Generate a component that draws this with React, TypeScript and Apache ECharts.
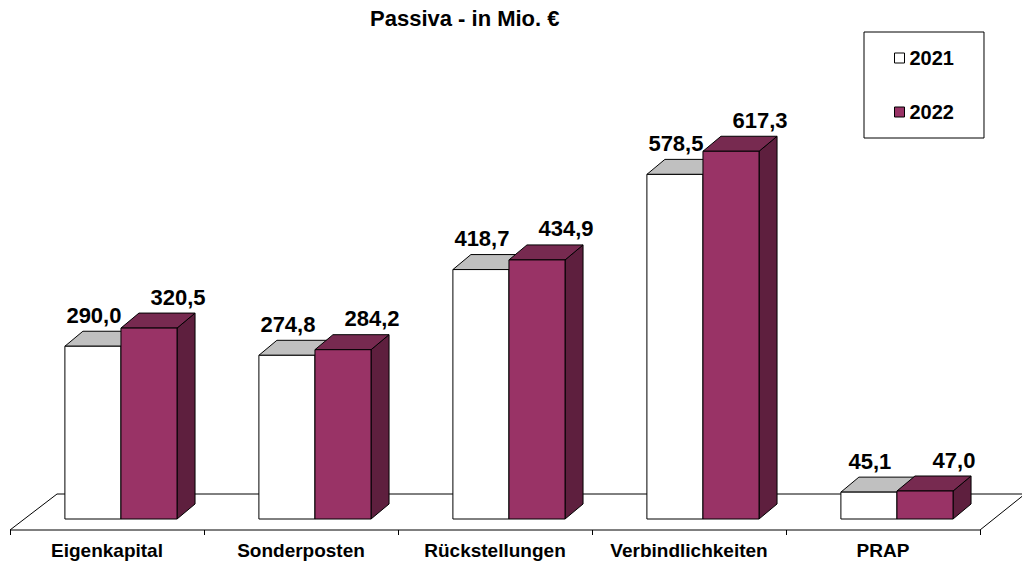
import React, { useEffect, useRef } from "react";
import * as echarts from "echarts";

const categories = ["Eigenkapital", "Sonderposten", "Rückstellungen", "Verbindlichkeiten", "PRAP"];
const seriesNames = ["2021", "2022"];
const values2021 = [290.0, 274.8, 418.7, 578.5, 45.1];
const values2022 = [320.5, 284.2, 434.9, 617.3, 47.0];

const FONT = "'Liberation Sans', Arial, sans-serif";

const palette = [
  { front: "#ffffff", top: "#c0c0c0", side: "#a0a0a0" },
  { front: "#993366", top: "#772a50", side: "#5e1f3e" },
];

function fmt(v: number) {
  return v.toFixed(1).replace(".", ",");
}

function makeBarRender(si: number) {
  return (params: any, api: any) => {
    const cat = api.value(0);
    const v = api.value(1);
    const top = api.coord([cat, v]);
    const base = api.coord([cat, 0]);
    const band = api.size([1, 0])[0];
    const w = band * 0.289;
    const shift = band * 0.072;
    const cx = top[0];
    const x0 = si === 0 ? cx + shift - w : cx + shift;
    const x1 = x0 + w;
    const yT = top[1];
    const yB = base[1];
    const dx = 18;
    const dy = -15;
    const c = palette[si];
    const stroke = { stroke: "#000", lineWidth: 1 };
    const lx = (x0 + x1) / 2 + (si === 0 ? 1 : 29);
    return {
      type: "group",
      children: [
        {
          type: "polygon",
          shape: { points: [[x1, yB], [x1 + dx, yB + dy], [x1 + dx, yT + dy], [x1, yT]] },
          style: { fill: c.side, ...stroke },
        },
        {
          type: "polygon",
          shape: { points: [[x0, yT], [x1, yT], [x1 + dx, yT + dy], [x0 + dx, yT + dy]] },
          style: { fill: c.top, ...stroke },
        },
        {
          type: "polygon",
          shape: { points: [[x0, yB], [x1, yB], [x1, yT], [x0, yT]] },
          style: { fill: c.front, ...stroke },
        },
        {
          type: "text",
          style: {
            x: lx,
            y: yT - 31,
            text: fmt(v),
            textAlign: "center",
            textVerticalAlign: "middle",
            fill: "#000",
            font: `bold 22px ${FONT}`,
          },
        },
      ],
    };
  };
}

export default function App() {
  const ref = useRef<HTMLDivElement>(null);
  useEffect(() => {
    if (!ref.current) return;
    const chart = echarts.init(ref.current, undefined, { renderer: "svg" });
    const floorRender = (params: any, api: any) => {
      const cs = params.coordSys;
      const fy = cs.y + cs.height + 11;
      const x = cs.x;
      const w = cs.width;
      const n = categories.length;
      const ticks = [];
      for (let i = 0; i <= n; i++) {
        const tx = Math.round(x + (i * w) / n) + 0.5;
        ticks.push({
          type: "line",
          shape: { x1: tx, y1: fy, x2: tx, y2: fy + 5 },
          style: { stroke: "#000", lineWidth: 1 },
        });
      }
      return {
        type: "group",
        children: [
          {
            type: "polygon",
            shape: { points: [[x, fy], [x + w, fy], [x + w + 45, fy - 36], [x + 47, fy - 36]] },
            style: { fill: "#fff", stroke: "#000", lineWidth: 1 },
          },
          ...ticks,
        ],
      };
    };
    chart.setOption({
      animation: false,
      backgroundColor: "#fff",
      title: {
        text: "Passiva - in Mio. €",
        left: 370,
        top: 7,
        padding: 0,
        textStyle: { fontFamily: FONT, fontWeight: "bold", fontSize: 22, color: "#000" },
      },
      legend: {
        orient: "vertical",
        left: 864,
        top: 32,
        padding: [15, 30],
        itemGap: 32,
        itemWidth: 10,
        itemHeight: 10,
        borderColor: "#000",
        borderWidth: 1,
        textStyle: { fontFamily: FONT, fontWeight: "bold", fontSize: 20, color: "#000", lineHeight: 22 },
        data: seriesNames.map((n, i) => ({
          name: n,
          icon: "rect",
          itemStyle: { color: palette[i].front, borderColor: "#000", borderWidth: 1 },
        })),
      },
      grid: { left: 10, right: 42, top: 102, bottom: 44 },
      xAxis: {
        type: "category",
        data: categories,
        offset: 11,
        axisLine: { show: false },
        axisTick: { show: false },
        axisLabel: {
          interval: 0,
          margin: 11,
          fontFamily: FONT,
          fontWeight: "bold",
          fontSize: 19,
          color: "#000",
        },
      },
      yAxis: { type: "value", min: 0, max: 700, show: false },
      series: [
        {
          type: "custom",
          name: "floor",
          renderItem: floorRender,
          data: [[0, 0]],
          z: 1,
          silent: true,
        },
        {
          type: "custom",
          name: seriesNames[0],
          renderItem: makeBarRender(0),
          data: values2021.map((v, i) => [i, v]),
          itemStyle: { color: palette[0].front },
          z: 2,
        },
        {
          type: "custom",
          name: seriesNames[1],
          renderItem: makeBarRender(1),
          data: values2022.map((v, i) => [i, v]),
          itemStyle: { color: palette[1].front },
          z: 3,
        },
      ],
    });
    return () => chart.dispose();
  }, []);
  return <div ref={ref} style={{ width: 1022, height: 563, position: "absolute", left: 0, top: 0 }} />;
}
